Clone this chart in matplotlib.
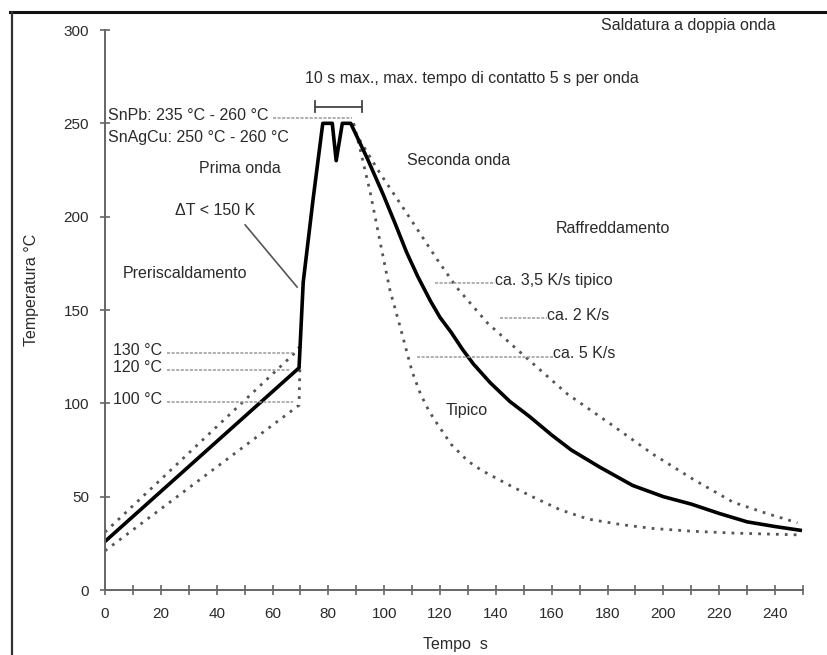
import matplotlib
matplotlib.use("Agg")
import matplotlib.pyplot as plt
from matplotlib.lines import Line2D

plt.rcParams['font.family'] = ['Liberation Sans', 'DejaVu Sans']

# profilo tipico (linea continua)
t_tip = [0, 69.5, 71, 74.5, 78, 81.4, 82.8, 85, 88, 94, 99.6, 104, 108, 112,
         116.5, 120, 124, 128, 132, 138, 145, 152, 160, 167, 177, 189, 200,
         210, 220, 230, 240, 249]
T_tip = [26, 119, 165, 209, 250, 250, 230, 250, 250, 231, 212, 196, 181, 168,
         155, 146, 138, 129, 121, 111, 101, 93, 83, 75, 66, 56, 50,
         46, 41, 36.5, 34, 32]

# preriscaldamento, limiti superiore e inferiore (punteggiati)
t_pre_hi = [0, 68, 69.5]
T_pre_hi = [31, 127, 130]
t_pre_lo = [0, 69.5, 69.8]
T_pre_lo = [21, 99, 119]

# raffreddamento lento, ca. 2 K/s
t_slow = [89, 90, 98.6, 108, 119, 126, 137, 152, 165.6, 181, 196, 211,
          225, 237, 248]
T_slow = [250, 244, 223, 202, 177, 162, 143, 123, 105, 89, 73, 59, 47, 41, 36]

# raffreddamento rapido, ca. 5 K/s
t_fast = [89, 91.4, 95, 98.6, 102, 105.7, 110, 113, 116, 119, 124, 130, 135,
          145, 153, 163, 173, 185, 196, 210, 225, 249]
T_fast = [250, 236, 213, 186, 161, 141, 117, 105, 96, 89, 78, 69, 64,
          56, 50, 43, 38, 35, 33, 31.5, 30.5, 29.5]

x_ticks = list(range(0, 251, 10))
x_labels = [str(v) if v % 20 == 0 and v <= 240 else '' for v in x_ticks]
y_ticks = [0, 50, 100, 150, 200, 250, 300]

fig = plt.figure(figsize=(8.28, 6.55), dpi=100)
ax = fig.add_axes([105 / 828, 65 / 655, 698 / 828, 560 / 655])
ax.set_xlim(0, 250)
ax.set_ylim(0, 300)

txt = '#2a2a2a'
grey = '#9a9a9a'
dot = (0, (1, 2.2))

ax.plot(t_pre_hi, T_pre_hi, color='#555555', lw=2.0, ls=dot)
ax.plot(t_pre_lo, T_pre_lo, color='#555555', lw=2.0, ls=dot)
ax.plot(t_slow, T_slow, color='#555555', lw=2.0, ls=dot)
ax.plot(t_fast, T_fast, color='#555555', lw=2.0, ls=dot)
ax.plot(t_tip, T_tip, color='black', lw=2.6, solid_joinstyle='round')

for s in ['top', 'right']:
    ax.spines[s].set_visible(False)
for s in ['left', 'bottom']:
    ax.spines[s].set_color('#666666')
    ax.spines[s].set_linewidth(1.4)

ax.set_xticks(x_ticks)
ax.set_xticklabels(x_labels)
ax.set_yticks(y_ticks)
ax.tick_params(direction='inout', length=7, width=1.2, colors='#666666',
               labelcolor=txt, labelsize=11)
ax.tick_params(axis='x', pad=9)
ax.tick_params(axis='y', pad=8)

fs = 11.5
# linee di richiamo
leaders = [
    ([60, 88.5], [252.8, 252.8]),
    ([22.2, 67.4], [127, 127]),
    ([22.2, 66.4], [117.8, 117.8]),
    ([22.2, 67.4], [100.7, 100.7]),
    ([118.3, 139.8], [164.4, 164.4]),
    ([141.6, 158.4], [145.7, 145.7]),
    ([111.8, 160.6], [124.8, 124.8]),
]
for xs, ys in leaders:
    ax.plot(xs, ys, color=grey, lw=1.1, ls=(0, (2, 1)))
ax.plot([50.2, 68.8], [195.6, 162.3], color='#555555', lw=1.2)

# barra 10 s
ax.plot([75.3, 92.2], [259, 259], color='#444444', lw=1.3)
ax.plot([75.3, 75.3], [256, 262], color='#444444', lw=1.3)
ax.plot([92.2, 92.2], [256, 262], color='#444444', lw=1.3)

ax.text(209, 302.6, 'Saldatura a doppia onda', ha='center', va='center',
        fontsize=fs, color=txt)
ax.text(71.7, 274, '10 s max., max. tempo di contatto 5 s per onda',
        ha='left', va='center', fontsize=fs, color=txt)
ax.text(1.1, 254.4, 'SnPb: 235 °C - 260 °C', ha='left', va='center',
        fontsize=fs, color=txt)
ax.text(1.1, 242.6, 'SnAgCu: 250 °C - 260 °C', ha='left', va='center',
        fontsize=fs, color=txt)
ax.text(48.4, 226, 'Prima onda', ha='center', va='center', fontsize=fs,
        color=txt)
ax.text(39.4, 203.5, 'ΔT < 150 K', ha='center', va='center', fontsize=fs,
        color=txt)
ax.text(28.7, 169.8, 'Preriscaldamento', ha='center', va='center',
        fontsize=fs, color=txt)
ax.text(108.2, 230.3, 'Seconda onda', ha='left', va='center', fontsize=fs,
        color=txt)
ax.text(161.3, 193.9, 'Raffreddamento', ha='left', va='center', fontsize=fs,
        color=txt)
ax.text(139.8, 166, 'ca. 3,5 K/s tipico', ha='left', va='center',
        fontsize=fs, color=txt)
ax.text(158.4, 147.3, 'ca. 2 K/s', ha='left', va='center', fontsize=fs,
        color=txt)
ax.text(160.6, 126.9, 'ca. 5 K/s', ha='left', va='center', fontsize=fs,
        color=txt)
ax.text(121.9, 96.4, 'Tipico', ha='left', va='center', fontsize=fs,
        color=txt)
ax.text(2.9, 128.5, '130 °C', ha='left', va='center', fontsize=fs, color=txt)
ax.text(2.9, 119.4, '120 °C', ha='left', va='center', fontsize=fs, color=txt)
ax.text(2.9, 101.8, '100 °C', ha='left', va='center', fontsize=fs, color=txt)

fig.text(455 / 828, 1 - 645 / 655, 'Tempo  s', ha='center', va='center',
         fontsize=fs, color=txt)
fig.text(32 / 828, 1 - 290 / 655, 'Temperatura °C', ha='center', va='center',
         rotation=90, fontsize=fs, color=txt)

# cornice della scansione
fig.add_artist(Line2D([10 / 828, 1], [1 - 12 / 655, 1 - 12 / 655],
                      color='#111111', lw=2.2))
fig.add_artist(Line2D([12 / 828, 12 / 828], [0, 1 - 12 / 655],
                      color='#333333', lw=1.6))

fig.savefig('out.png', dpi=100)
